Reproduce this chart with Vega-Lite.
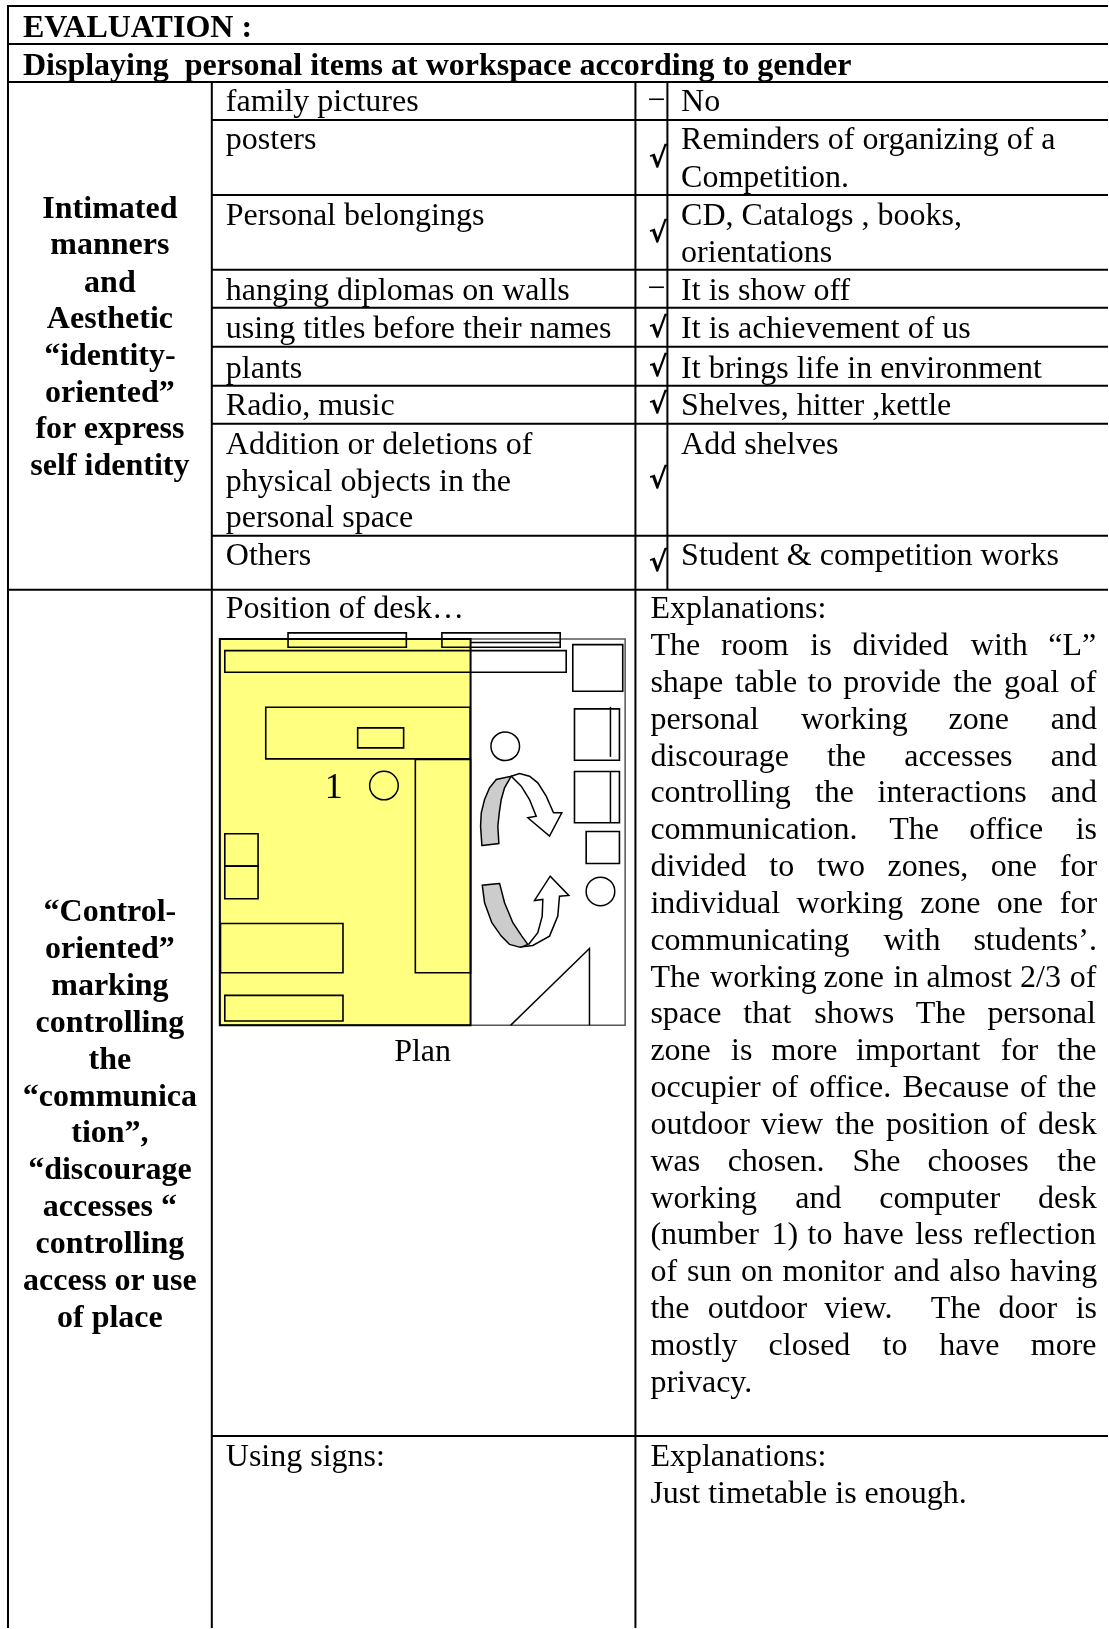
{
"$schema":"https://vega.github.io/schema/vega-lite/v6.json",
"width":1109,"height":1629,"padding":0,
"autosize":{"type":"fit","contains":"padding"},
"background":"white",
"config":{"view":{"stroke":null},"text":{"font":"Liberation Serif","fontSize":32,"baseline":"alphabetic","color":"black"}},
"encoding":{
"x":{"field":"x","type":"quantitative","scale":{"domain":[0,1109],"nice":false,"zero":false},"axis":null},
"y":{"field":"y","type":"quantitative","scale":{"domain":[1629,0],"nice":false,"zero":false},"axis":null}
},
"layer":[
{"data":{"values":[
{"x":220,"x2":625.7,"y":639.3,"y2":1026}
]},"mark":{"type":"rect","fill":"white","stroke":"#555555","strokeWidth":1.5},"encoding":{"x2":{"field":"x2"},"y2":{"field":"y2"}}},
{"data":{"values":[
{"x":288.3,"x2":406.7,"y":633.3,"y2":647.7},
{"x":442.3,"x2":560.7,"y":633.3,"y2":647.7},
{"x":225,"x2":566.7,"y":651,"y2":672.7},
{"x":266,"x2":470.7,"y":707.7,"y2":759.3},
{"x":358,"x2":404,"y":728.3,"y2":748.3},
{"x":415.7,"x2":471,"y":760,"y2":973.3},
{"x":225,"x2":258.3,"y":834.3,"y2":866.7},
{"x":225,"x2":258.3,"y":866.7,"y2":899.3},
{"x":220.7,"x2":343.3,"y":924,"y2":973.3},
{"x":225,"x2":343.3,"y":996,"y2":1021.7},
{"x":573.3,"x2":623.3,"y":645,"y2":691.7},
{"x":575,"x2":620,"y":709.3,"y2":760.7},
{"x":575,"x2":620,"y":772,"y2":823.3},
{"x":586.7,"x2":620,"y":832,"y2":864}
]},"mark":{"type":"rect","fill":null,"stroke":"black","strokeWidth":1.6},"encoding":{"x2":{"field":"x2"},"y2":{"field":"y2"}}},
{"data":{"values":[
{"x":471,"x2":560.7,"y":643,"y2":643},
{"x":611,"x2":611,"y":707.3,"y2":757.3},
{"x":611,"x2":611,"y":772,"y2":823.3}
]},"mark":{"type":"rule","stroke":"black","strokeWidth":1.5},"encoding":{"x2":{"field":"x2"},"y2":{"field":"y2"}}},
{"data":{"values":[
{"x":384.3,"y":786},{"x":505.7,"y":746.7},{"x":601,"y":892}
]},"mark":{"type":"point","shape":"circle","size":818,"filled":false,"stroke":"black","strokeWidth":1.5,"opacity":1}},
{"data":{"values":[{"x":334,"y":798,"t":"1"}]},"mark":{"type":"text","align":"center","fontSize":36},"encoding":{"text":{"field":"t"}}},
{"data":{"values":[
{"x":220,"x2":471,"y":639.3,"y2":1026}
]},"mark":{"type":"rect","fill":"#ffff80","stroke":null,"blend":"multiply"},"encoding":{"x2":{"field":"x2"},"y2":{"field":"y2"}}},
{"data":{"values":[
{"x":222.5},{"x":228.5},{"x":233.5},{"x":239.5},{"x":245.5},{"x":250.5},{"x":256.5},{"x":262.5},{"x":267.5},{"x":273.5},{"x":279.5},{"x":284.5},{"x":290.5},{"x":296.5},{"x":301.5},{"x":307.5},{"x":313.5},{"x":318.5},{"x":324.5},{"x":330.5},{"x":335.5},{"x":341.5},{"x":347.5},{"x":352.5},{"x":358.5},{"x":364.5},{"x":369.5},{"x":375.5},{"x":381.5},{"x":386.5},{"x":392.5},{"x":398.5},{"x":403.5},{"x":409.5},{"x":415.5},{"x":420.5},{"x":426.5},{"x":432.5},{"x":437.5},{"x":443.5},{"x":449.5},{"x":454.5},{"x":460.5},{"x":466.5}
]},"mark":{"type":"rule","stroke":"#ffff44","strokeWidth":1,"blend":"multiply"},"encoding":{"y":{"datum":639.3},"y2":{"datum":1026}}},
{"data":{"values":[
{"y":642.5},{"y":648.5},{"y":653.5},{"y":659.5},{"y":665.5},{"y":670.5},{"y":676.5},{"y":682.5},{"y":687.5},{"y":693.5},{"y":699.5},{"y":704.5},{"y":710.5},{"y":716.5},{"y":721.5},{"y":727.5},{"y":733.5},{"y":738.5},{"y":744.5},{"y":750.5},{"y":755.5},{"y":761.5},{"y":767.5},{"y":772.5},{"y":778.5},{"y":784.5},{"y":789.5},{"y":795.5},{"y":801.5},{"y":806.5},{"y":812.5},{"y":818.5},{"y":823.5},{"y":829.5},{"y":835.5},{"y":840.5},{"y":846.5},{"y":852.5},{"y":857.5},{"y":863.5},{"y":869.5},{"y":874.5},{"y":880.5},{"y":886.5},{"y":891.5},{"y":897.5},{"y":903.5},{"y":908.5},{"y":914.5},{"y":920.5},{"y":925.5},{"y":931.5},{"y":937.5},{"y":942.5},{"y":948.5},{"y":954.5},{"y":959.5},{"y":965.5},{"y":971.5},{"y":976.5},{"y":982.5},{"y":988.5},{"y":993.5},{"y":999.5},{"y":1005.5},{"y":1010.5},{"y":1016.5},{"y":1022.5}
]},"mark":{"type":"rule","stroke":"#ffff44","strokeWidth":1,"blend":"multiply"},"encoding":{"x":{"datum":220},"x2":{"datum":471}}},
{"data":{"values":[
{"x":220,"x2":471,"y":639.3,"y2":1026}
]},"mark":{"type":"rect","fill":null,"stroke":"black","strokeWidth":2},"encoding":{"x2":{"field":"x2"},"y2":{"field":"y2"}}},
{"data":{"values":[
{"id":"top","i":1,"x":511.7,"y":776.7},{"id":"top","i":2,"x":520,"y":774},{"id":"top","i":3,"x":530,"y":776.7},{"id":"top","i":4,"x":538.3,"y":783.3},{"id":"top","i":5,"x":546.7,"y":796.7},{"id":"top","i":6,"x":554,"y":813.3},{"id":"top","i":7,"x":562.3,"y":813.3},{"id":"top","i":8,"x":550,"y":836.7},{"id":"top","i":9,"x":528.3,"y":818.3},{"id":"top","i":10,"x":536.7,"y":816.7},{"id":"top","i":11,"x":530,"y":800},{"id":"top","i":12,"x":521.7,"y":786.7},{"id":"top","i":13,"x":511.7,"y":776.7},
{"id":"bot","i":1,"x":520,"y":947.7},{"id":"bot","i":2,"x":533.3,"y":946},{"id":"bot","i":3,"x":550,"y":936.7},{"id":"bot","i":4,"x":558.3,"y":916.7},{"id":"bot","i":5,"x":560,"y":896.7},{"id":"bot","i":6,"x":569.3,"y":896},{"id":"bot","i":7,"x":550.7,"y":876.7},{"id":"bot","i":8,"x":535,"y":901},{"id":"bot","i":9,"x":543.3,"y":900},{"id":"bot","i":10,"x":542.7,"y":916.7},{"id":"bot","i":11,"x":538.3,"y":933.3},{"id":"bot","i":12,"x":529,"y":945},
{"id":"tri","i":1,"x":511,"y":1026},{"id":"tri","i":2,"x":590,"y":949},{"id":"tri","i":3,"x":590,"y":1026}
]},"mark":{"type":"line","stroke":"black","strokeWidth":1.5},"encoding":{"detail":{"field":"id"},"order":{"field":"i","type":"quantitative"}}},
{"data":{"values":[
{"y":776.7,"x":511.7,"x2":511.7},{"y":780,"x":496.7,"x2":509.7},{"y":788.3,"x":490,"x2":505},{"y":800,"x":485,"x2":501.7},{"y":813.3,"x":481.7,"x2":499.7},{"y":826.7,"x":481,"x2":498.3},{"y":844,"x":482.2,"x2":499.3},{"y":846,"x":482.3,"x2":482.8}
]},"mark":{"type":"area","orient":"horizontal","fill":"#cccccc","stroke":"black","strokeWidth":1.5},"encoding":{"x2":{"field":"x2"}}},
{"data":{"values":[
{"y":884,"x":499.5,"x2":500},{"y":885.7,"x":482.7,"x2":500.5},{"y":903.3,"x":485,"x2":505},{"y":923.3,"x":492.3,"x2":513.3},{"y":936.7,"x":501.7,"x2":522.3},{"y":945,"x":510,"x2":528.3},{"y":947.7,"x":520,"x2":521.7}
]},"mark":{"type":"area","orient":"horizontal","fill":"#cccccc","stroke":"black","strokeWidth":1.5},"encoding":{"x2":{"field":"x2"}}},
{"data":{"values":[
{"x":8,"x2":1109,"y":6,"y2":6},
{"x":8,"x2":1109,"y":44,"y2":44},
{"x":8,"x2":1109,"y":82,"y2":82},
{"x":212,"x2":1109,"y":120,"y2":120},
{"x":212,"x2":1109,"y":195,"y2":195},
{"x":212,"x2":1109,"y":270,"y2":270},
{"x":212,"x2":1109,"y":308,"y2":308},
{"x":212,"x2":1109,"y":347,"y2":347},
{"x":212,"x2":1109,"y":386,"y2":386},
{"x":212,"x2":1109,"y":424,"y2":424},
{"x":212,"x2":1109,"y":536,"y2":536},
{"x":8,"x2":1109,"y":590,"y2":590},
{"x":212,"x2":1109,"y":1437,"y2":1437},
{"x":8,"x2":8,"y":5,"y2":1629},
{"x":212,"x2":212,"y":82,"y2":1629},
{"x":636,"x2":636,"y":82,"y2":1629},
{"x":668,"x2":668,"y":82,"y2":590}
]},"mark":{"type":"rule","stroke":"black","strokeWidth":2},"encoding":{"x2":{"field":"x2"},"y2":{"field":"y2"}}},
{"data":{"values":[
{"x":23,"y":37,"t":"EVALUATION :"},
{"x":23,"y":74.7,"t":"Displaying\u00a0\u00a0personal items at workspace according to gender"}
]},"mark":{"type":"text","align":"left","fontWeight":"bold"},"encoding":{"text":{"field":"t"}}},
{"data":{"values":[
{"x":110,"y":218,"t":"Intimated"},{"x":110,"y":254.5,"t":"manners"},{"x":110,"y":291.7,"t":"and"},{"x":110,"y":328.5,"t":"Aesthetic"},{"x":110,"y":365.3,"t":"“identity-"},{"x":110,"y":402,"t":"oriented”"},{"x":110,"y":438.5,"t":"for express"},{"x":110,"y":475,"t":"self identity"},
{"x":110,"y":922,"t":"“Control-"},{"x":110,"y":958.9,"t":"oriented”"},{"x":110,"y":995.7,"t":"marking"},{"x":110,"y":1032.6,"t":"controlling"},{"x":110,"y":1069.4,"t":"the"},{"x":110,"y":1106.3,"t":"“communica"},{"x":110,"y":1143.1,"t":"tion”,"},{"x":110,"y":1180,"t":"“discourage"},{"x":110,"y":1216.8,"t":"accesses “"},{"x":110,"y":1253.7,"t":"controlling"},{"x":110,"y":1290.5,"t":"access or use"},{"x":110,"y":1327.4,"t":"of place"}
]},"mark":{"type":"text","align":"center","fontWeight":"bold"},"encoding":{"text":{"field":"t"}}},
{"data":{"values":[
{"x":423,"y":1061.5,"t":"Plan"}
]},"mark":{"type":"text","align":"center"},"encoding":{"text":{"field":"t"}}},
{"data":{"values":[
{"x":668,"y":167,"t":"√"},{"x":668,"y":242,"t":"√"},{"x":668,"y":337,"t":"√"},{"x":668,"y":376,"t":"√"},{"x":668,"y":413,"t":"√"},{"x":668,"y":488,"t":"√"},{"x":668,"y":571,"t":"√"}
]},"mark":{"type":"text","align":"right","font":"DejaVu Sans","fontSize":28,"fontWeight":"bold"},"encoding":{"text":{"field":"t"}}},
{"data":{"values":[
{"x":666,"y":110,"t":"−"},{"x":666,"y":298,"t":"−"}
]},"mark":{"type":"text","align":"right"},"encoding":{"text":{"field":"t"}}},
{"data":{"values":[
{"x":226,"y":111.5,"t":"family pictures"},{"x":226,"y":149.5,"t":"posters"},{"x":226,"y":225,"t":"Personal belongings"},{"x":226,"y":300,"t":"hanging diplomas on walls"},{"x":226,"y":338,"t":"using titles before their names"},{"x":226,"y":378,"t":"plants"},{"x":226,"y":415,"t":"Radio, music"},{"x":226,"y":454.2,"t":"Addition or deletions of"},{"x":226,"y":491,"t":"physical objects in the"},{"x":226,"y":527,"t":"personal space"},{"x":226,"y":565.5,"t":"Others"},
{"x":226,"y":618,"t":"Position of desk…"},{"x":226,"y":1467,"t":"Using signs:"},
{"x":681.7,"y":111.5,"t":"No"},{"x":681.7,"y":149.5,"t":"Reminders of organizing of a"},{"x":681.7,"y":187,"t":"Competition."},{"x":681.7,"y":225,"t":"CD, Catalogs , books,"},{"x":681.7,"y":262,"t":"orientations"},{"x":681.7,"y":300,"t":"It is show off"},{"x":681.7,"y":338,"t":"It is achievement of us"},{"x":681.7,"y":378,"t":"It brings life in environment"},{"x":681.7,"y":415,"t":"Shelves, hitter ,kettle"},{"x":681.7,"y":454.2,"t":"Add shelves"},{"x":681.7,"y":565.5,"t":"Student & competition works"},
{"x":651,"y":618.6,"t":"Explanations:"},{"x":651,"y":1467,"t":"Explanations:"},{"x":651,"y":1503.7,"t":"Just timetable is enough."},
{"x":651,"y":655.5,"t":"The"},{"x":721.7,"y":655.5,"t":"room"},{"x":811,"y":655.5,"t":"is"},{"x":853.3,"y":655.5,"t":"divided"},{"x":971.7,"y":655.5,"t":"with"},{"x":1049.3,"y":655.5,"t":"“L”"},
{"x":651,"y":692.4,"t":"shape"},{"x":735.7,"y":692.4,"t":"table"},{"x":808.3,"y":692.4,"t":"to"},{"x":844,"y":692.4,"t":"provide"},{"x":954,"y":692.4,"t":"the"},{"x":1005,"y":692.4,"t":"goal"},{"x":1070.7,"y":692.4,"t":"of"},
{"x":651,"y":729.2,"t":"personal"},{"x":801.7,"y":729.2,"t":"working"},{"x":949.3,"y":729.2,"t":"zone"},{"x":1051.7,"y":729.2,"t":"and"},
{"x":651,"y":766,"t":"discourage"},{"x":827.7,"y":766,"t":"the"},{"x":905,"y":766,"t":"accesses"},{"x":1051.7,"y":766,"t":"and"},
{"x":651,"y":802.9,"t":"controlling"},{"x":815.7,"y":802.9,"t":"the"},{"x":878.3,"y":802.9,"t":"interactions"},{"x":1051.7,"y":802.9,"t":"and"},
{"x":651,"y":839.8,"t":"communication."},{"x":890,"y":839.8,"t":"The"},{"x":970,"y":839.8,"t":"office"},{"x":1076.7,"y":839.8,"t":"is"},
{"x":651,"y":876.6,"t":"divided"},{"x":770,"y":876.6,"t":"to"},{"x":817.7,"y":876.6,"t":"two"},{"x":888.3,"y":876.6,"t":"zones,"},{"x":991.7,"y":876.6,"t":"one"},{"x":1060.7,"y":876.6,"t":"for"},
{"x":651,"y":913.5,"t":"individual"},{"x":797.3,"y":913.5,"t":"working"},{"x":921,"y":913.5,"t":"zone"},{"x":997.7,"y":913.5,"t":"one"},{"x":1060.7,"y":913.5,"t":"for"},
{"x":651,"y":950.3,"t":"communicating"},{"x":884.3,"y":950.3,"t":"with"},{"x":974.3,"y":950.3,"t":"students’."},
{"x":651,"y":987.2,"t":"The"},{"x":710.7,"y":987.2,"t":"working"},{"x":824.3,"y":987.2,"t":"zone"},{"x":894.3,"y":987.2,"t":"in"},{"x":927.3,"y":987.2,"t":"almost"},{"x":1021,"y":987.2,"t":"2/3"},{"x":1070.7,"y":987.2,"t":"of"},
{"x":651,"y":1024,"t":"space"},{"x":744,"y":1024,"t":"that"},{"x":815,"y":1024,"t":"shows"},{"x":916.7,"y":1024,"t":"The"},{"x":988.3,"y":1024,"t":"personal"},
{"x":651,"y":1060.9,"t":"zone"},{"x":731.7,"y":1060.9,"t":"is"},{"x":772.3,"y":1060.9,"t":"more"},{"x":856.7,"y":1060.9,"t":"important"},{"x":1001.7,"y":1060.9,"t":"for"},{"x":1058.3,"y":1060.9,"t":"the"},
{"x":651,"y":1097.7,"t":"occupier"},{"x":772.3,"y":1097.7,"t":"of"},{"x":810,"y":1097.7,"t":"office."},{"x":903.3,"y":1097.7,"t":"Because"},{"x":1021,"y":1097.7,"t":"of"},{"x":1058.3,"y":1097.7,"t":"the"},
{"x":651,"y":1134.6,"t":"outdoor"},{"x":761.7,"y":1134.6,"t":"view"},{"x":836,"y":1134.6,"t":"the"},{"x":886.7,"y":1134.6,"t":"position"},{"x":1000.7,"y":1134.6,"t":"of"},{"x":1039,"y":1134.6,"t":"desk"},
{"x":651,"y":1171.4,"t":"was"},{"x":728.3,"y":1171.4,"t":"chosen."},{"x":853.3,"y":1171.4,"t":"She"},{"x":928.3,"y":1171.4,"t":"chooses"},{"x":1058.3,"y":1171.4,"t":"the"},
{"x":651,"y":1208.3,"t":"working"},{"x":796,"y":1208.3,"t":"and"},{"x":880,"y":1208.3,"t":"computer"},{"x":1039,"y":1208.3,"t":"desk"},
{"x":651,"y":1245.1,"t":"(number"},{"x":772.3,"y":1245.1,"t":"1)"},{"x":808.3,"y":1245.1,"t":"to"},{"x":844,"y":1245.1,"t":"have"},{"x":916,"y":1245.1,"t":"less"},{"x":974.3,"y":1245.1,"t":"reflection"},
{"x":651,"y":1282,"t":"of"},{"x":687.7,"y":1282,"t":"sun"},{"x":741.7,"y":1282,"t":"on"},{"x":783.3,"y":1282,"t":"monitor"},{"x":894.3,"y":1282,"t":"and"},{"x":950,"y":1282,"t":"also"},{"x":1011,"y":1282,"t":"having"},
{"x":651,"y":1318.8,"t":"the"},{"x":708.3,"y":1318.8,"t":"outdoor"},{"x":825,"y":1318.8,"t":"view."},{"x":931.7,"y":1318.8,"t":"The"},{"x":999.3,"y":1318.8,"t":"door"},{"x":1076.7,"y":1318.8,"t":"is"},
{"x":651,"y":1355.7,"t":"mostly"},{"x":769.3,"y":1355.7,"t":"closed"},{"x":883.3,"y":1355.7,"t":"to"},{"x":940,"y":1355.7,"t":"have"},{"x":1031.7,"y":1355.7,"t":"more"},
{"x":651,"y":1392.5,"t":"privacy."}
]},"mark":{"type":"text","align":"left"},"encoding":{"text":{"field":"t"}}}
]}
